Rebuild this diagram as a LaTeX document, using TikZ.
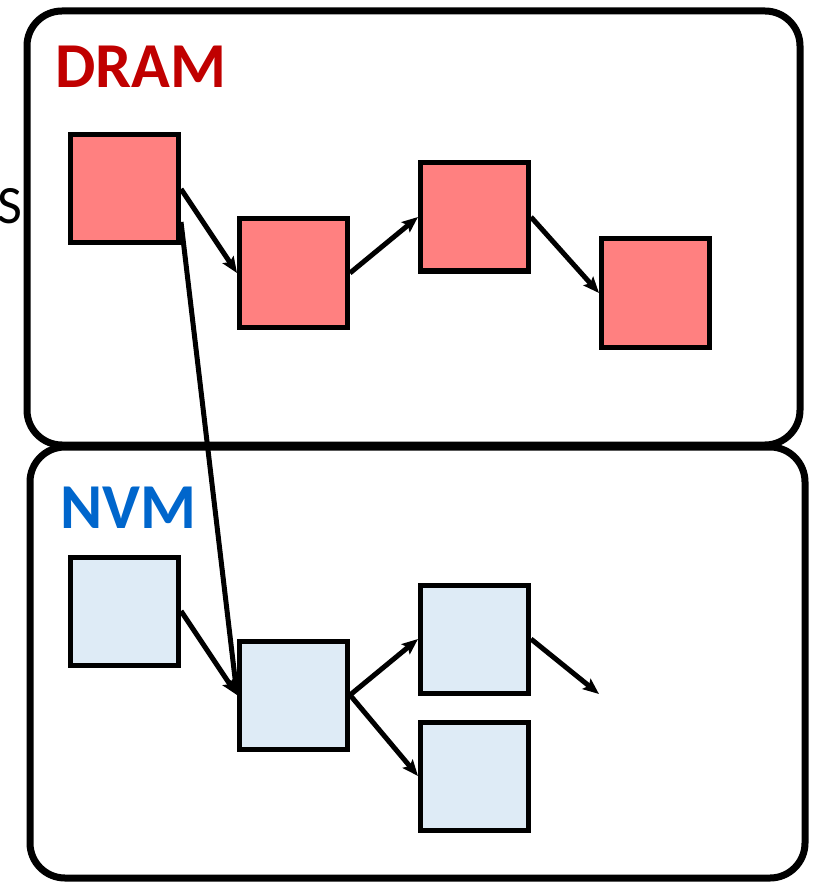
\documentclass[tikz,border=0pt]{standalone}
\usepackage{fontspec}
\setmainfont{Carlito}
\usetikzlibrary{arrows.meta}
\definecolor{dramred}{RGB}{192,0,0}
\definecolor{nvmblue}{RGB}{0,102,204}
\definecolor{pagefill}{RGB}{255,128,128}
\definecolor{nvmfill}{RGB}{222,235,246}
\begin{document}
\begin{tikzpicture}[x=1pt,y=-1pt,
  region/.style={line width=7pt,rounded corners=35pt},
  page/.style={draw=black,line width=5pt,minimum size=108pt,inner sep=0pt},
  drampage/.style={page,fill=pagefill},
  nvmpage/.style={page,fill=nvmfill},
  link/.style={line width=5pt,-{Stealth[length=16pt,width=13pt,inset=3pt]}},
  label/.style={font=\bfseries\fontsize{64}{64}\selectfont,anchor=base west,inner sep=0pt}
]
\useasboundingbox (0,0) rectangle (821,882);

% memory regions
\draw[region] (27,11) rectangle (800,445);
\draw[region] (30,447) rectangle (805,878);
\node[label,text=dramred] (dramlbl) at (55,88) {DRAM};
\node[label,text=nvmblue] (nvmlbl) at (60,528) {NVM};
\node[font=\fontsize{54}{54}\selectfont,anchor=base east,inner sep=0pt] (cut) at (23,224) {S};

% DRAM pages
\node[drampage] (R1) at (124.5,189) {};
\node[drampage] (R2) at (293.5,273) {};
\node[drampage] (R3) at (474.5,217) {};
\node[drampage] (R4) at (655.5,293) {};

% NVM pages
\node[nvmpage] (B1) at (124.5,611) {};
\node[nvmpage] (B2) at (293.5,695) {};
\node[nvmpage] (B3) at (474.5,639) {};
\node[nvmpage] (B4) at (474.5,776) {};
\coordinate (tail) at (599,694);

% links
\draw[link] (R1.east) -- (R2.west);
\draw[link] (R2.east) -- (R3.west);
\draw[link] (R3.east) -- (R4.west);
\draw[link] ([yshift=-33pt]R1.east) -- (B2.west);
\draw[link] (B1.east) -- (B2.west);
\draw[link] (B2.east) -- (B3.west);
\draw[link] (B2.east) -- (B4.west);
\draw[link] (B3.east) -- (tail);
\end{tikzpicture}
\end{document}
